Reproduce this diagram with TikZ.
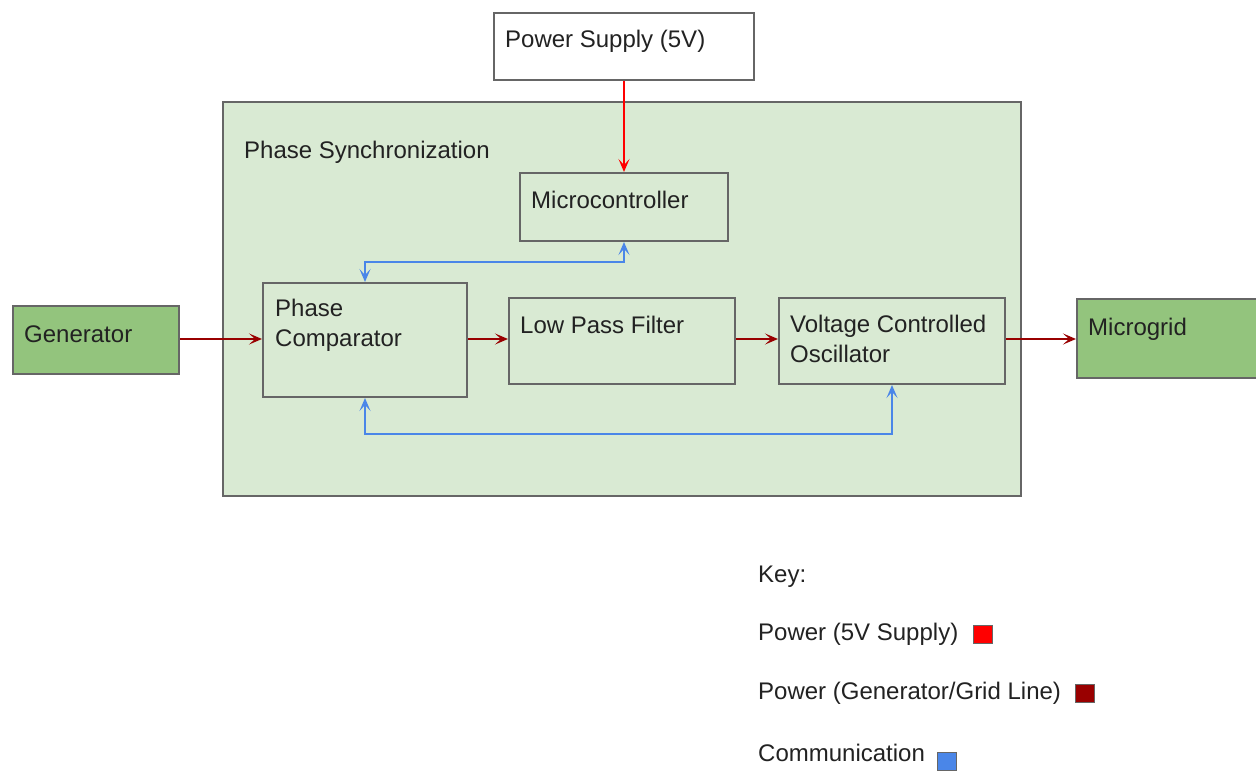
\documentclass[tikz,border=0pt]{standalone}
\usepackage{fontspec}
\setmainfont{Liberation Sans}
\usetikzlibrary{arrows.meta,calc}
\definecolor{lgreen}{HTML}{D9EAD3}
\definecolor{mgreen}{HTML}{93C47D}
\definecolor{dred}{HTML}{990000}
\definecolor{pred}{HTML}{FF0000}
\definecolor{cblue}{HTML}{4A86E8}
\definecolor{bord}{HTML}{666666}
\definecolor{txt}{HTML}{222222}
\begin{document}
\begin{tikzpicture}[x=1pt,y=-1pt,
  box/.style={draw=bord,line width=2pt,rectangle,inner sep=0pt,anchor=north west},
  lbl/.style={anchor=west,inner sep=0pt,text=txt,font=\fontsize{24}{30}\selectfont,align=left},
  gridline/.style={draw=dred,line width=2.2pt,-{Stealth[length=13pt,width=11pt,inset=6pt]}},
  supply/.style={draw=pred,line width=2.2pt,-{Stealth[length=13pt,width=11pt,inset=6pt]}},
  comm/.style={draw=cblue,line width=2.2pt,{Stealth[length=13pt,width=11pt,inset=6pt]}-{Stealth[length=13pt,width=11pt,inset=6pt]}},
  keysq/.style={draw=bord,line width=1pt,rectangle,inner sep=0pt,minimum width=19pt,minimum height=18pt,anchor=north west}
]
\useasboundingbox[fill=white] (0,0) rectangle (1256,771);
% container
\node[box,fill=lgreen,minimum width=798pt,minimum height=394pt] (sync) at (222,101) {};
\node[lbl] (synclbl) at (244,152) {Phase Synchronization};
% power supply
\node[box,fill=white,minimum width=260pt,minimum height=67pt] (ps) at (493,12) {};
\node[lbl] (pslbl) at (505,41) {Power Supply (5V)};
% microcontroller
\node[box,fill=lgreen,minimum width=208pt,minimum height=68pt] (mc) at (519,172) {};
\node[lbl] (mclbl) at (531,200) {Microcontroller};
% phase comparator
\node[box,fill=lgreen,minimum width=204pt,minimum height=114pt] (pc) at (262,282) {};
\node[lbl] (pclbl) at (275,325) {Phase\\Comparator};
% low pass filter
\node[box,fill=lgreen,minimum width=226pt,minimum height=86pt] (lpf) at (508,297) {};
\node[lbl] (lpflbl) at (520,325) {Low Pass Filter};
% vco
\node[box,fill=lgreen,minimum width=226pt,minimum height=86pt] (vco) at (778,297) {};
\node[lbl] (vcolbl) at (790,339) {Voltage Controlled\\Oscillator};
% generator
\node[box,fill=mgreen,minimum width=166pt,minimum height=68pt] (gen) at (12,305) {};
\node[lbl] (genlbl) at (24,334) {Generator};
% microgrid
\node[box,fill=mgreen,minimum width=182pt,minimum height=79pt] (mg) at (1076,298) {};
\node[lbl] (mglbl) at (1088,329) {Microgrid};
% connectors
\draw[supply] (ps.south) -- (mc.north);
\draw[gridline] (gen.east |- 0,339) coordinate (g1) -- (pc.west |- g1);
\draw[gridline] (pc.east |- g1) -- (lpf.west |- g1);
\draw[gridline] (lpf.east |- g1) -- (vco.west |- g1);
\draw[gridline] (vco.east |- g1) -- (mg.west |- g1);
\draw[comm] (pc.north) -- ++(0,-20) -| (mc.south);
\draw[comm] (pc.south) -- ++(0,36) -| (vco.south);
% key
\node[lbl] (key) at (758,577) {Key:};
\node[lbl] (k1) at (758,634) {Power (5V Supply)};
\node[keysq,fill=pred] (s1) at (973,625) {};
\node[lbl] (k2) at (758,693) {Power (Generator/Grid Line)};
\node[keysq,fill=dred] (s2) at (1075,684) {};
\node[lbl] (k3) at (758,753) {Communication};
\node[keysq,fill=cblue] (s3) at (937,752) {};
\end{tikzpicture}
\end{document}
